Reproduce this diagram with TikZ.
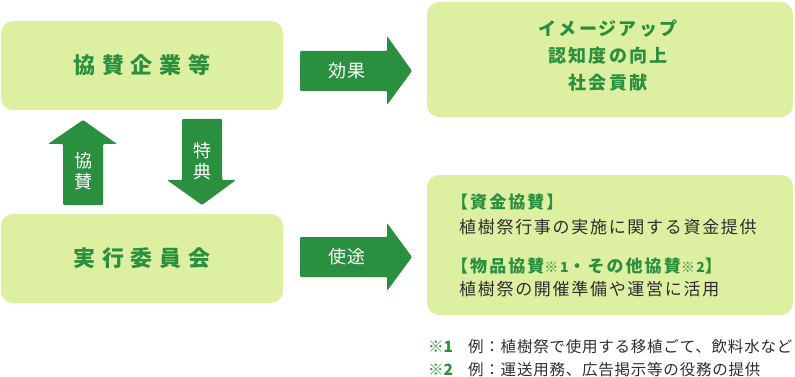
\documentclass[tikz,border=0pt]{standalone}
\usepackage{fontspec}
\setmainfont{Noto Sans CJK JP}
\definecolor{leaf}{HTML}{DDEFA0}
\definecolor{deepgreen}{HTML}{2A8F3F}
\definecolor{ink}{HTML}{2E2E2E}
\newcommand{\fsz}[1]{\fontsize{#1}{#1}\selectfont}
\newcommand{\note}[1]{{\fsz{14}#1}}
\begin{document}
\begin{tikzpicture}[x=1pt, y=-1pt,
  panel/.style={fill=leaf, rounded corners=12pt, inner sep=0pt},
  bigtitle/.style={text=deepgreen, font=\fsz{22}\bfseries\addfontfeature{LetterSpace=30}},
  effectline/.style={text=deepgreen, font=\fsz{18}\bfseries\addfontfeature{LetterSpace=12}, inner sep=0pt},
  headline/.style={text=deepgreen, font=\fsz{17}\bfseries\addfontfeature{LetterSpace=12}, inner sep=0pt, anchor=west},
  bodyline/.style={text=ink, font=\fsz{17}\addfontfeature{LetterSpace=10}, inner sep=0pt, anchor=west},
  arrowlabel/.style={text=white, font=\fsz{18}\addfontfeature{LetterSpace=8}, inner sep=0pt},
  footline/.style={text=ink, font=\fsz{15.5}\addfontfeature{LetterSpace=5}, inner sep=0pt, anchor=west}]
\useasboundingbox (0,0) rectangle (795,377);
% panels
\node[panel, minimum width=282pt, minimum height=89pt] (sponsor) at (142,65.5) {};
\node[panel, minimum width=282pt, minimum height=89pt] (committee) at (142,258.5) {};
\node[panel, minimum width=366pt, minimum height=115pt] (effect) at (610,59.5) {};
\node[panel, minimum width=366pt, minimum height=140pt] (usage) at (610,245) {};
\node[bigtitle] (sponsortxt) at (sponsor) {協賛企業等};
\node[bigtitle] (committeetxt) at (committee) {実行委員会};
% block arrows
\fill[deepgreen, rounded corners=1pt] (300,51) -- (387,51) -- (387,36) -- (412,71) -- (387,105) -- (387,91) -- (300,91) -- cycle;
\fill[deepgreen, rounded corners=1pt] (300,237) -- (387,237) -- (387,223) -- (412,257) -- (387,291) -- (387,277) -- (300,277) -- cycle;
\fill[deepgreen, rounded corners=1pt] (63,205) -- (63,144) -- (48,144) -- (83,120) -- (117,144) -- (103,144) -- (103,205) -- cycle;
\fill[deepgreen, rounded corners=1pt] (182,119) -- (222,119) -- (222,180) -- (236,180) -- (202,205) -- (167,180) -- (182,180) -- cycle;
\node[arrowlabel] (effectlbl) at (347,71) {効果};
\node[arrowlabel] (usagelbl) at (347,257) {使途};
\node[arrowlabel, align=center, font=\fontsize{18}{21}\selectfont] (supportlbl) at (83,171) {協\\賛};
\node[arrowlabel, align=center, font=\fontsize{18}{21}\selectfont] (benefitlbl) at (202,161) {特\\典};
% effect panel
\node[effectline] (img) at (608,29) {イメージアップ};
\node[effectline] (aware) at (608,56) {認知度の向上};
\node[effectline] (social) at (608,83) {社会貢献};
% usage panel
\node[headline] (fundhead) at (451,202) {【資金協賛】};
\node[bodyline] (fundtxt) at (459,227) {植樹祭行事の実施に関する資金提供};
\node[headline] (goodshead) at (451,266) {【物品協賛\note{※1}・その他協賛\note{※2}】};
\node[bodyline] (goodstxt) at (459,289) {植樹祭の開催準備や運営に活用};
% notes
\node[footline, text=deepgreen, font=\fsz{15.5}\bfseries] (mark1) at (428,347) {※1};
\node[footline] (note1) at (468,347) {例：植樹祭で使用する移植ごて、飲料水など};
\node[footline, text=deepgreen, font=\fsz{15.5}\bfseries] (mark2) at (428,370) {※2};
\node[footline] (note2) at (468,370) {例：運送用務、広告掲示等の役務の提供};
\end{tikzpicture}
\end{document}
